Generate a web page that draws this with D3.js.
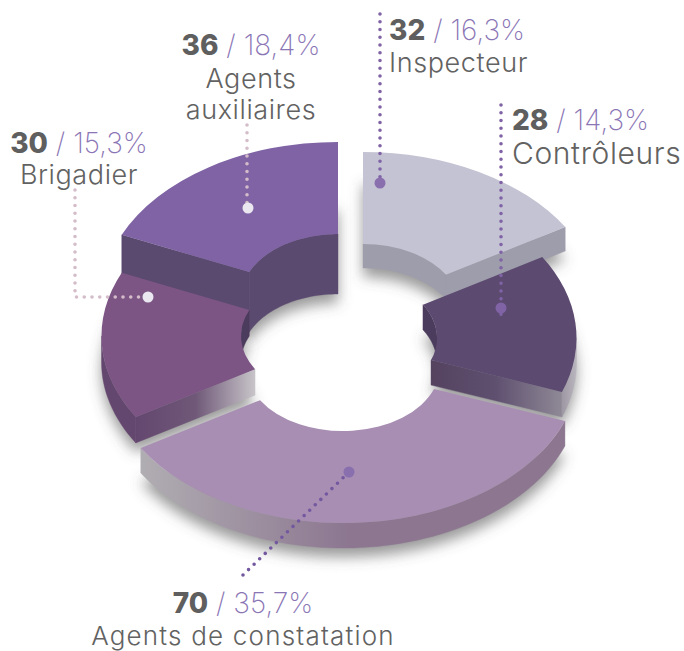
<!DOCTYPE html>
<html>
<head>
<meta charset="utf-8">
<script src="https://cdnjs.cloudflare.com/ajax/libs/d3/7.8.5/d3.min.js"></script>
<style>
  html, body { margin: 0; background: #fff; }
  svg { display: block; }
  text { font-family: Inter, "Open Sans", sans-serif; }
</style>
</head>
<body>
<script>
'use strict';
// Chart data
const categories = ['Inspecteur', 'Contrôleurs', 'Agents de constatation', 'Brigadier', 'Agents auxiliaires'];
const counts = [32, 28, 70, 30, 36];
const percents = ['16,3%', '14,3%', '35,7%', '15,3%', '18,4%'];

const width = 684, height = 651;
const rOuter = 236.5, rInner = 97, squash = 0.66;
const toRad = Math.PI / 180;

// exploded centre and wall height of each slice, same order as categories
const sliceLayout = [
  { cx: 363, cy: 308, h: 24 },
  { cx: 340, cy: 338, h: 25 },
  { cx: 343, cy: 367, h: 25 },
  { cx: 338, cy: 336, h: 26 },
  { cx: 338, cy: 298, h: 60 }
];
const sliceStyle = [
  { top: '#c4c3d4', outer: '#9e9dab', radial: '#9e9dab', inner: '#9e9dab' },
  { top: '#5c4a70', outer: 'url(#ctrlOuter)', radial: 'url(#ctrlRadial)', inner: '#4b3b5c' },
  { top: '#a88eb3', outer: 'url(#bigOuter)', radial: '#8c7690', inner: '#8c7690' },
  { top: '#7c5585', outer: '#64476f', radial: 'url(#brigRadial)', inner: '#4b3b5c' },
  { top: '#7f63a5', outer: '#5b4a70', radial: '#5b4a70', inner: '#5b4a70' }
];
// painted back to front
const drawOrder = [4, 0, 1, 3, 2];

const svg = d3.select('body').append('svg')
  .attr('width', width)
  .attr('height', height);

const defs = svg.append('defs');
defs.append('filter')
  .attr('id', 'blur')
  .attr('filterUnits', 'userSpaceOnUse')
  .attr('x', 0).attr('y', 0).attr('width', width).attr('height', height)
  .append('feGaussianBlur').attr('stdDeviation', 7);

function gradient(id, x1, x2, stops) {
  const g = defs.append('linearGradient')
    .attr('id', id)
    .attr('gradientUnits', 'userSpaceOnUse')
    .attr('x1', x1).attr('x2', x2).attr('y1', 0).attr('y2', 0);
  stops.forEach((c, i) => g.append('stop')
    .attr('offset', i / (stops.length - 1))
    .attr('stop-color', c));
}
gradient('ctrlRadial', 430, 562, ['#54425f', '#5f5070', '#8f8996']);
gradient('ctrlOuter', 555, 578, ['#8f8996', '#bdb9c1']);
gradient('bigOuter', 142, 350, ['#b0adb2', '#8c7690']);
gradient('brigRadial', 135, 256, ['#64476f', '#6f5878', '#c9c6ca']);

const pie = d3.pie().sort(null).value(d => d).startAngle(0).endAngle(2 * Math.PI);
const arcs = pie(counts);
const arc = d3.arc().innerRadius(rInner).outerRadius(rOuter);
const line = d3.line();

function ellipsePoints(s, r, a0, a1, dy) {
  const n = Math.max(2, Math.ceil((a1 - a0) / (2 * toRad)));
  return d3.range(n + 1).map(i => {
    const a = a0 + (a1 - a0) * i / n;
    return [s.cx + r * Math.sin(a), s.cy - r * squash * Math.cos(a) + dy];
  });
}

// side wall hanging under a top edge
function wallPath(s, topPts) {
  const bottom = topPts.map(p => [p[0], p[1] + s.h]).reverse();
  return line(topPts.concat(bottom)) + 'Z';
}

function overlap(a0, a1, lo, hi) {
  const from = Math.max(a0, lo), to = Math.min(a1, hi);
  return to > from ? [from, to] : null;
}

const chart = svg.append('g');

drawOrder.forEach(i => {
  const d = arcs[i], s = sliceLayout[i], st = sliceStyle[i];
  const a0 = d.startAngle, a1 = d.endAngle;
  const g = chart.append('g').attr('class', 'slice');

  // soft shadow on the ground
  g.append('g').attr('filter', 'url(#blur)')
    .append('path')
    .attr('d', arc(d))
    .attr('transform', `translate(${s.cx},${s.cy + s.h + 9}) scale(1,${squash})`)
    .attr('fill', '#555')
    .attr('opacity', 0.6);

  const wall = (pts, fill) => g.append('path')
    .attr('d', wallPath(s, pts))
    .attr('fill', fill)
    .attr('stroke', fill)
    .attr('stroke-width', 0.4);

  // inner wall, only the far side of the hole can be seen
  [[-Math.PI / 2, Math.PI / 2], [1.5 * Math.PI, 2.5 * Math.PI]].forEach(r => {
    const o = overlap(a0, a1, r[0], r[1]);
    if (o) wall(ellipsePoints(s, rInner, o[0], o[1], 0), st.inner);
  });

  // radial walls
  if (Math.sin(a0) < 0) wall(ellipsePoints(s, rOuter, a0, a0, 0).slice(0, 1).concat(ellipsePoints(s, rInner, a0, a0, 0).slice(0, 1)), st.radial);
  if (Math.sin(a1) > 0) wall(ellipsePoints(s, rOuter, a1, a1, 0).slice(0, 1).concat(ellipsePoints(s, rInner, a1, a1, 0).slice(0, 1)), st.radial);

  // outer wall, near side only
  const o = overlap(a0, a1, Math.PI / 2, 1.5 * Math.PI);
  if (o) wall(ellipsePoints(s, rOuter, o[0], o[1], 0), st.outer);

  // top face
  g.append('path')
    .attr('d', arc(d))
    .attr('transform', `translate(${s.cx},${s.cy}) scale(1,${squash})`)
    .attr('fill', st.top);
});

// dotted leaders
const leaders = [
  { pts: [[380, 14], [380, 183]], color: '#7f63a5', dot: [380, 183], dotFill: '#8a6fae', r: 5.5 },
  { pts: [[501, 105], [501, 318]], color: '#7f63a5', dot: [501, 308], dotFill: '#7f63a5', r: 5.5 },
  { pts: [[243, 575], [349, 472]], color: '#7358a0', dot: [349, 472], dotFill: '#8a6fae', r: 5.5 },
  { pts: [[247, 125], [247, 208]], color: '#d4bcc9', dot: [248, 208], dotFill: '#ebe7f0', r: 5.5 },
  { pts: [[75, 190], [75, 297], [148, 297]], color: '#d4bcc9', dot: [148, 297], dotFill: '#ebe7f0', r: 5.5 }
];
const annot = svg.append('g');
annot.selectAll('path').data(leaders).join('path')
  .attr('d', d => line(d.pts))
  .attr('fill', 'none')
  .attr('stroke', d => d.color)
  .attr('stroke-width', 3.6)
  .attr('stroke-linecap', 'round')
  .attr('stroke-dasharray', '0 7.75');
annot.selectAll('circle').data(leaders).join('circle')
  .attr('cx', d => d.dot[0])
  .attr('cy', d => d.dot[1])
  .attr('r', d => d.r)
  .attr('fill', d => d.dotFill);

// labels, index points into categories
const labelLayout = [
  { i: 0, x: 389, anchor: 'start', y: 40, lines: ['Inspecteur'], ly: [72], size: 27, sp: 0.6 },
  { i: 1, x: 512, anchor: 'start', y: 130, lines: ['Contrôleurs'], ly: [164], size: 30, sp: 0.6 },
  { i: 2, x: 243, anchor: 'middle', y: 613, lines: ['Agents de constatation'], ly: [645], size: 26, sp: 1.2 },
  { i: 3, x: 79, anchor: 'middle', y: 153, lines: ['Brigadier'], ly: [184], size: 27, sp: 0.6 },
  { i: 4, x: 251, anchor: 'middle', y: 55, lines: ['Agents', 'auxiliaires'], ly: [88, 119], size: 27, sp: 0.6 }
];
const labels = svg.append('g');
labelLayout.forEach(l => {
  const t = labels.append('text')
    .attr('x', l.x).attr('y', l.y)
    .attr('text-anchor', l.anchor)
    .attr('font-size', 28);
  t.append('tspan').text(counts[l.i]).attr('font-weight', 800).attr('fill', '#5f5f5f');
  t.append('tspan').text(' / ').attr('font-weight', 200).attr('fill', '#8a75b5');
  t.append('tspan').text(percents[l.i]).attr('font-weight', 200).attr('fill', '#8a75b5');
  l.lines.forEach((txt, k) => {
    labels.append('text')
      .attr('x', l.x).attr('y', l.ly[k])
      .attr('text-anchor', l.anchor)
      .attr('font-size', l.size)
      .attr('letter-spacing', l.sp)
      .attr('font-weight', 300)
      .attr('fill', '#626262')
      .text(txt);
  });
});
</script>
</body>
</html>
